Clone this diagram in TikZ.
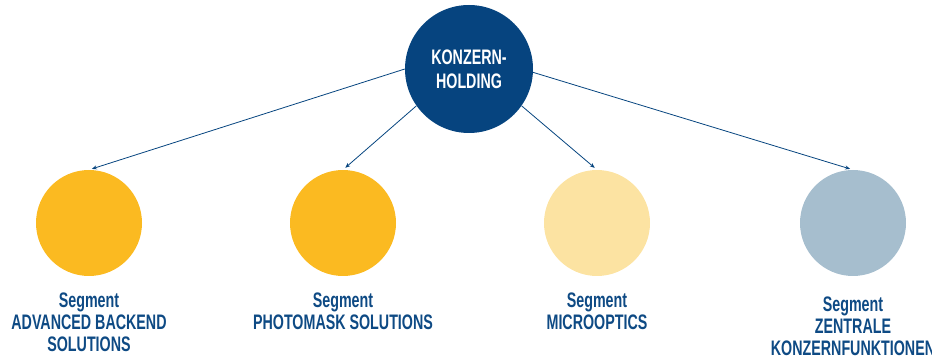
\documentclass[tikz,border=0pt]{standalone}
\usepackage{fontspec}
\newfontfamily\segfont{Liberation Sans}[FakeStretch=0.68]
\usetikzlibrary{positioning,arrows.meta}
\definecolor{holdblue}{RGB}{6,68,127}
\definecolor{segyellow}{RGB}{251,186,33}
\definecolor{segpale}{RGB}{252,227,162}
\definecolor{seggrey}{RGB}{166,190,206}
\definecolor{labelblue}{RGB}{14,74,132}

\begin{document}
\begin{tikzpicture}
    [x=1pt,y=-1pt,
     seg/.style={circle,minimum size=106pt,inner sep=0pt},
     lbl/.style={align=center,text=labelblue,inner sep=0pt,
       font=\segfont\bfseries\fontsize{21}{22}\selectfont},
     link/.style={draw=holdblue,line width=0.8pt,shorten >=3pt,-{Stealth[length=5pt,width=4pt]}}]
    \useasboundingbox (0,0) rectangle (932,358);

    \node[circle,fill=holdblue,minimum size=128pt,inner sep=0pt,align=center,text=white,
      font=\segfont\bfseries\fontsize{21}{24}\selectfont] (holding) at (469,69) {KONZERN-\\HOLDING};

    \node[seg,fill=segyellow] (backend) at (89,223) {};
    \node[seg,fill=segyellow] (photomask) at (343,223) {};
    \node[seg,fill=segpale] (optics) at (597,223) {};
    \node[seg,fill=seggrey] (central) at (853,223) {};

    \node[lbl] (backendlbl) [below=16pt of backend] {Segment\\ADVANCED BACKEND\\SOLUTIONS};
    \node[lbl] (photomasklbl) [below=16pt of photomask] {Segment\\PHOTOMASK SOLUTIONS};
    \node[lbl] (opticslbl) [below=16pt of optics] {Segment\\MICROOPTICS};
    \node[lbl] (centrallbl) [below=20pt of central] {Segment\\ZENTRALE\\KONZERNFUNKTIONEN};

    \draw[link] (holding.180) -- (backend.north);
    \draw[link] (holding.215) -- (photomask.north);
    \draw[link] (holding.-35) -- (optics.north);
    \draw[link] (holding.-3) -- (central.north);
\end{tikzpicture}
\end{document}
